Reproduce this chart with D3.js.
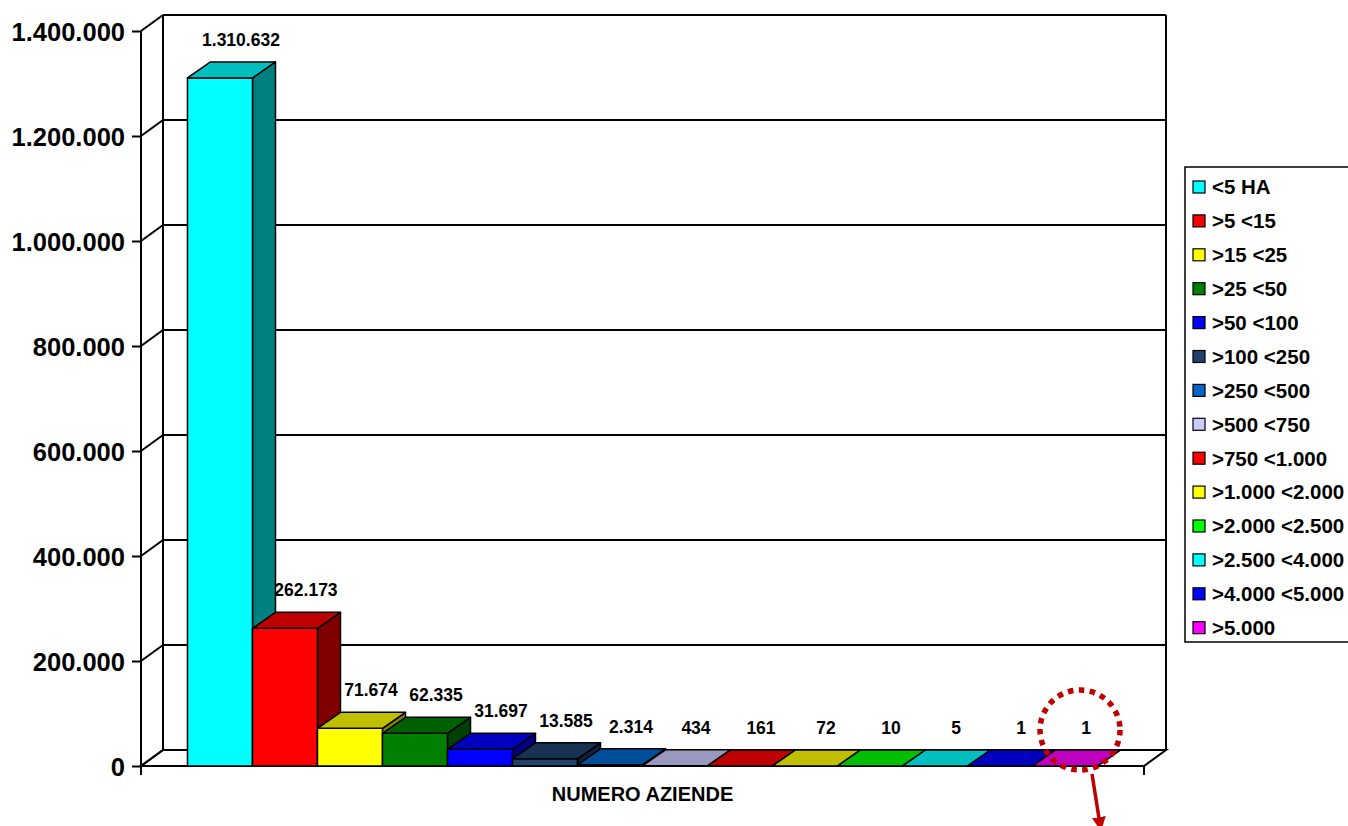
<!DOCTYPE html>
<html>
<head>
<meta charset="utf-8">
<script src="https://cdn.jsdelivr.net/npm/d3@7/dist/d3.min.js"></script>
<style>
  html, body { margin: 0; padding: 0; background: #ffffff; }
  svg { display: block; }
  text { font-family: "Liberation Sans", Arial, Helvetica, sans-serif; font-weight: bold; fill: #000; }
</style>
</head>
<body>
<svg id="chart" width="1348" height="826"></svg>
<script>
// ---- data ----
const seriesNames = ["<5 HA", ">5 <15", ">15 <25", ">25 <50", ">50 <100", ">100 <250", ">250 <500",
  ">500 <750", ">750 <1.000", ">1.000 <2.000", ">2.000 <2.500", ">2.500 <4.000", ">4.000 <5.000", ">5.000"];
const values = [1310632, 262173, 71674, 62335, 31697, 13585, 2314, 434, 161, 72, 10, 5, 1, 1];
const seriesColors = ["#00FFFF", "#FF0000", "#FFFF00", "#008000", "#0000FF", "#21416E", "#0066CC",
  "#CCCCFF", "#FF0000", "#FFFF00", "#00FF00", "#00FFFF", "#0000FF", "#FF00FF"];
const yTicks = [0, 200000, 400000, 600000, 800000, 1000000, 1200000, 1400000];
const categoryLabel = "NUMERO AZIENDE";

// ---- layout ----
const svg = d3.select("#chart");
const fmt = d3.formatLocale({ decimal: ",", thousands: ".", grouping: [3], currency: ["", "€"] }).format(",d");

const x0 = 141, x1 = 1144;        // front floor edge
const wallDx = 22, wallDy = -16;  // depth of the walls
const barDx = 23, barDy = -16;    // depth of bars

const x = d3.scaleBand().domain(seriesNames).range([x0, x1]).paddingInner(0).paddingOuter(0.715);
const y = d3.scaleLinear().domain([0, 1400000]).range([766, 31]);

function shade(c, k) {
  const r = d3.rgb(c);
  return d3.rgb(Math.round(r.r * k), Math.round(r.g * k), Math.round(r.b * k)).formatHex();
}

const frame = svg.append("g").attr("stroke", "#000").attr("fill", "none");

// floor
frame.append("path")
  .attr("d", `M${x0},${y(0)}L${x1},${y(0)}L${x1 + wallDx},${y(0) + wallDy}L${x0 + wallDx},${y(0) + wallDy}Z`)
  .attr("fill", "#fff").attr("stroke-width", 2);
frame.append("line").attr("x1", x1).attr("x2", x1).attr("y1", y(0)).attr("y2", y(0) + 9).attr("stroke-width", 2);

// back wall gridlines & left wall diagonals
yTicks.forEach(v => {
  frame.append("line")
    .attr("x1", x0 + wallDx).attr("x2", x1 + wallDx)
    .attr("y1", y(v) + wallDy).attr("y2", y(v) + wallDy)
    .attr("stroke-width", 2);
  frame.append("line")
    .attr("x1", x0).attr("x2", x0 + wallDx)
    .attr("y1", y(v)).attr("y2", y(v) + wallDy)
    .attr("stroke-width", 2);
});
const wallTop = y(1400000) + wallDy, wallBot = y(0) + wallDy;
frame.append("line").attr("x1", x0 + wallDx).attr("x2", x0 + wallDx).attr("y1", wallTop).attr("y2", wallBot).attr("stroke-width", 2);
frame.append("line").attr("x1", x1 + wallDx).attr("x2", x1 + wallDx).attr("y1", wallTop).attr("y2", wallBot).attr("stroke-width", 2);

// y axis
const axis = d3.axisLeft(y).tickValues(yTicks).tickFormat(fmt).tickSize(9).tickSizeOuter(0).tickPadding(7);
const ag = svg.append("g").attr("transform", `translate(${x0},0)`).call(axis);
ag.select(".domain").remove();
ag.selectAll(".tick line").attr("stroke", "#000").attr("stroke-width", 2);
ag.selectAll(".tick text")
  .style("font-family", '"Liberation Sans", Arial, sans-serif')
  .style("font-weight", "bold").style("font-size", "25.5px").attr("fill", "#000").attr("dy", "0.38em");
svg.append("line").attr("x1", x0).attr("x2", x0).attr("y1", y(1400000)).attr("y2", y(0) + 9)
  .attr("stroke", "#000").attr("stroke-width", 2);

// bars (3D)
const bars = svg.append("g").attr("stroke", "#000").attr("stroke-width", 1.5).attr("stroke-linejoin", "round");
seriesNames.forEach((name, i) => {
  const v = values[i];
  const bx = x(name), bw = x.bandwidth();
  const yt = y(v), yb = y(0);
  const c = seriesColors[i];
  const g = bars.append("g");
  g.append("path")
    .attr("d", `M${bx + bw},${yt}L${bx + bw + barDx},${yt + barDy}L${bx + bw + barDx},${yb + barDy}L${bx + bw},${yb}Z`)
    .attr("fill", shade(c, 0.5));
  g.append("path")
    .attr("d", `M${bx},${yt}L${bx + bw},${yt}L${bx + bw},${yb}L${bx},${yb}Z`)
    .attr("fill", c);
  g.append("path")
    .attr("d", `M${bx},${yt}L${bx + bw},${yt}L${bx + bw + barDx},${yt + barDy}L${bx + barDx},${yt + barDy}Z`)
    .attr("fill", shade(c, 0.75));
});

// data labels
svg.append("g").selectAll("text").data(seriesNames).join("text")
  .attr("x", d => x(d) + x.bandwidth() / 2 + 21)
  .attr("y", (d, i) => y(values[i]) + barDy - 16)
  .attr("text-anchor", "middle")
  .style("font-size", "17.5px")
  .text((d, i) => fmt(values[i]));

// category axis title
svg.append("text")
  .attr("x", (x0 + x1) / 2).attr("y", 801)
  .attr("text-anchor", "middle")
  .style("font-size", "20px")
  .text(categoryLabel);

// legend
const lg = svg.append("g");
lg.append("rect").attr("x", 1185).attr("y", 167).attr("width", 200).attr("height", 475)
  .attr("fill", "#fff").attr("stroke", "#000").attr("stroke-width", 1.5);
const li = lg.selectAll("g.item").data(seriesNames).join("g").attr("class", "item")
  .attr("transform", (d, i) => `translate(1193,${187 + i * 33.9})`);
li.append("rect").attr("x", 0).attr("y", -6).attr("width", 12).attr("height", 12)
  .attr("fill", (d, i) => seriesColors[i]).attr("stroke", "#000").attr("stroke-width", 1.2);
li.append("text").attr("x", 19).attr("y", 0).attr("dy", "0.36em")
  .style("font-size", "20.5px").text(d => d);

// annotation: dotted circle and arrow on last bar
const last = seriesNames[seriesNames.length - 1];
const cx = x(last) + x.bandwidth() / 2 + 15, cy = y(0) - 36;
const ann = svg.append("g");
ann.append("ellipse").attr("cx", cx).attr("cy", cy).attr("rx", 40).attr("ry", 40)
  .attr("fill", "none").attr("stroke", "#C00000").attr("stroke-width", 5.5)
  .attr("stroke-dasharray", "5.5,5.5");
const defs = svg.append("defs");
defs.append("marker").attr("id", "ah").attr("viewBox", "0 0 10 10").attr("refX", 10).attr("refY", 5)
  .attr("markerWidth", 4).attr("markerHeight", 4).attr("orient", "auto")
  .append("path").attr("d", "M0,0L10,5L0,10Z").attr("fill", "#C00000").attr("stroke", "none");
ann.append("line").attr("x1", cx + 12).attr("y1", cy + 44).attr("x2", cx + 21).attr("y2", cy + 101)
  .attr("stroke", "#C00000").attr("stroke-width", 3.5).attr("marker-end", "url(#ah)");
</script>
</body>
</html>
